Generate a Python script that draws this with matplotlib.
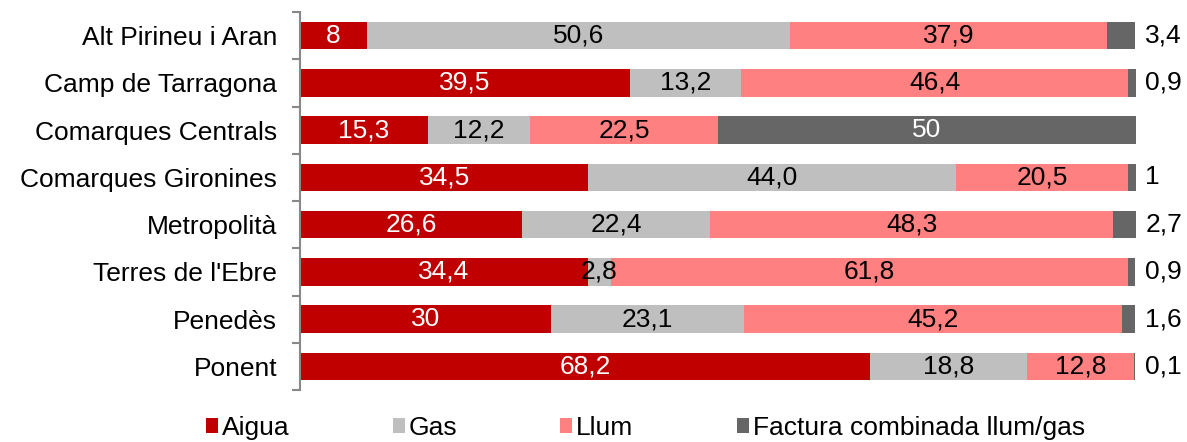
import matplotlib
matplotlib.use("Agg")
import matplotlib.pyplot as plt
import numpy as np

categories = ["Alt Pirineu i Aran", "Camp de Tarragona", "Comarques Centrals",
              "Comarques Gironines", "Metropolità", "Terres de l'Ebre", "Penedès", "Ponent"]
series_names = ["Aigua", "Gas", "Llum", "Factura combinada llum/gas"]
aigua = [8, 39.5, 15.3, 34.5, 26.6, 34.4, 30, 68.2]
gas = [50.6, 13.2, 12.2, 44.0, 22.4, 2.8, 23.1, 18.8]
llum = [37.9, 46.4, 22.5, 20.5, 48.3, 61.8, 45.2, 12.8]
factura = [3.4, 0.9, 50, 1, 2.7, 0.9, 1.6, 0.1]
aigua_lbl = ["8", "39,5", "15,3", "34,5", "26,6", "34,4", "30", "68,2"]
gas_lbl = ["50,6", "13,2", "12,2", "44,0", "22,4", "2,8", "23,1", "18,8"]
llum_lbl = ["37,9", "46,4", "22,5", "20,5", "48,3", "61,8", "45,2", "12,8"]
factura_lbl = ["3,4", "0,9", "50", "1", "2,7", "0,9", "1,6", "0,1"]

colors = ["#C00000", "#BFBFBF", "#FF8080", "#666666"]
text_colors = ["white", "black", "black", "white"]

plt.rcParams['font.family'] = ['Liberation Sans', 'DejaVu Sans']
FS = 19

fig = plt.figure(figsize=(11.87, 4.42), dpi=100)
ax = fig.add_axes([300/1187, 1-390/442, (1136-300)/1187, (390-12)/442])

y = np.arange(len(categories))
series = [aigua, gas, llum, factura]
labels = [aigua_lbl, gas_lbl, llum_lbl, factura_lbl]
left = np.zeros(len(categories))
for vals, lbls, col, tcol, name in zip(series, labels, colors, text_colors, series_names):
    vals = np.array(vals, dtype=float)
    ax.barh(y, vals, left=left, height=0.58, color=col, label=name)
    for i, (v, l) in enumerate(zip(vals, lbls)):
        if name == series_names[3] and v < 10:
            ax.text(101.1, y[i], l, ha="left", va="center", fontsize=FS, color="black")
        else:
            ax.text(left[i] + v/2, y[i], l, ha="center", va="center", fontsize=FS, color=tcol)
    left = left + vals

ax.set_xlim(0, 100)
ax.set_ylim(len(categories)-0.5, -0.5)
ax.set_yticks(y)
ax.set_yticklabels(categories, fontsize=FS)
ax.set_yticks(np.arange(-0.5, len(categories)+0.5, 1), minor=True)
ax.tick_params(axis='y', which='major', length=0, pad=16.5)
ax.tick_params(axis='y', which='minor', length=6, width=1.5, color="#888888")
ax.set_xticks([])
for s in ["top", "right", "bottom"]:
    ax.spines[s].set_visible(False)
ax.spines["left"].set_color("#888888")
ax.spines["left"].set_linewidth(1.5)

leg = fig.legend(loc="center left", bbox_to_anchor=(206/1187, 1-428/442), ncol=4, frameon=False,
                 fontsize=FS, handlelength=0.46, handleheight=0.46, handletextpad=0.15,
                 columnspacing=3.9, borderaxespad=0, borderpad=0)

fig.savefig("out.png", dpi=100)
